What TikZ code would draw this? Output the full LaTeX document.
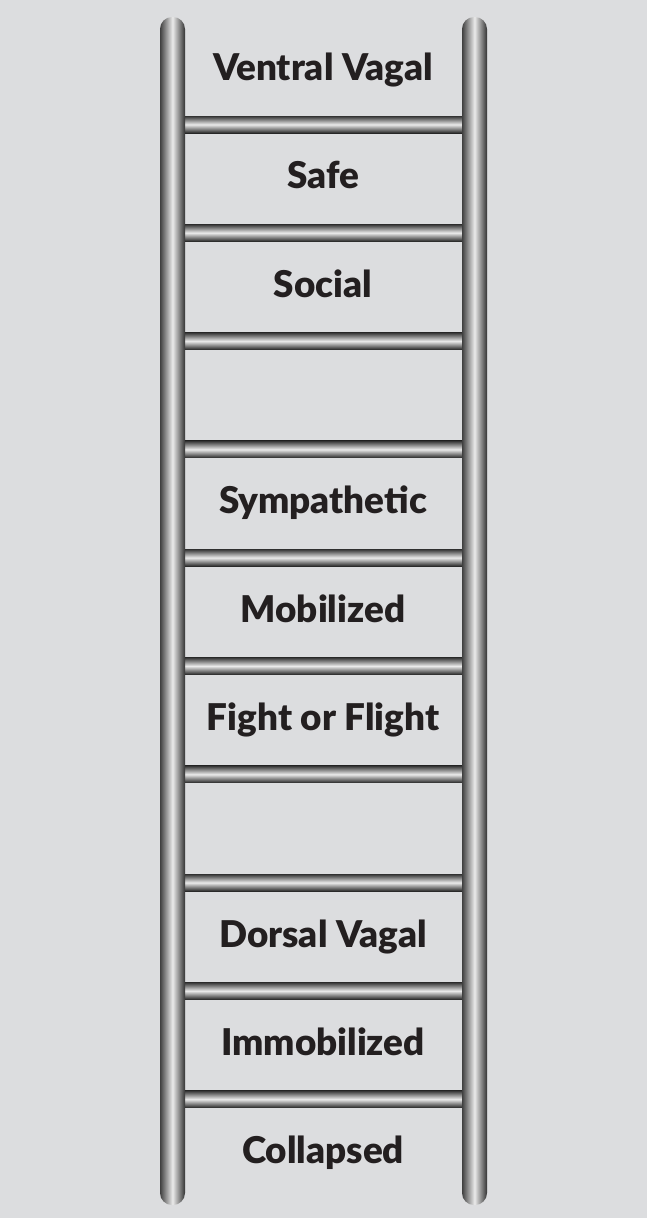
\documentclass[tikz,border=0pt]{standalone}
\usepackage{fontspec}
\setmainfont{Lato}[BoldFont={Lato Black}]
\definecolor{bg}{HTML}{DCDDDF}
\definecolor{ink}{HTML}{231F20}
\tikzset{
    rail/.style={left color=black!75,right color=black!80,middle color=white!92!black,rounded corners=0.3cm},
    rung/.style={top color=black!80,bottom color=black!85,middle color=white!92!black},
    rowlabel/.style={font=\bfseries\fontsize{26.2}{30}\selectfont,text=ink,anchor=base}
}
\begin{document}
\begin{tikzpicture}[x=0.025cm,y=-0.025cm]
        %% Background
        \fill[bg] (0,0) rectangle (647,1218);
        \useasboundingbox (0,0) rectangle (647,1218);
        %% Rungs
        \foreach \k in {0,...,9}
            \shade[rung] (183,{116+108.3*\k}) rectangle (464,{133+108.3*\k});
        %% Left Rail
        \shade[rail] (160,17) rectangle (185,1205);
        %% Right Rail
        \shade[rail] (462,17) rectangle (487,1205);
        %% Labels
        \node[rowlabel] (ventral) at (323,80.5) {Ventral Vagal};
        \node[rowlabel] (safe) at (323,188.8) {Safe};
        \node[rowlabel] (social) at (323,297.1) {Social};
        \node[rowlabel] (sympathetic) at (323,513.7) {Sympathetic};
        \node[rowlabel] (mobilized) at (323,622) {Mobilized};
        \node[rowlabel] (fight) at (323,730.5) {Fight or Flight};
        \node[rowlabel] (dorsal) at (323,947) {Dorsal Vagal};
        \node[rowlabel] (immobilized) at (323,1055.3) {Immobilized};
        \node[rowlabel] (collapsed) at (323,1163) {Collapsed};
    \end{tikzpicture}
\end{document}
